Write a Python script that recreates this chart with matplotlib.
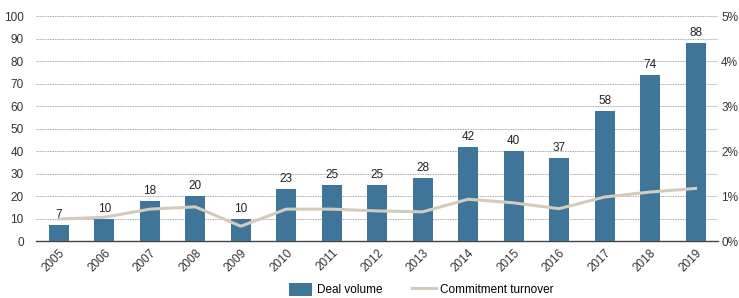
import matplotlib.pyplot as plt
from matplotlib.ticker import FuncFormatter

years = ["2005", "2006", "2007", "2008", "2009", "2010", "2011", "2012",
         "2013", "2014", "2015", "2016", "2017", "2018", "2019"]
deal_volume = [7, 10, 18, 20, 10, 23, 25, 25, 28, 42, 40, 37, 58, 74, 88]
turnover = [0.49, 0.53, 0.71, 0.76, 0.33, 0.71, 0.71, 0.67, 0.65, 0.93,
            0.85, 0.72, 0.98, 1.09, 1.17]

bar_color = "#3e7599"
line_color = "#d5cbbd"

plt.rcParams["font.family"] = ["Liberation Sans Narrow", "Liberation Sans", "DejaVu Sans"]
plt.rcParams["font.size"] = 8.5

fig = plt.figure(figsize=(7.39, 2.98), dpi=100)
ax = fig.add_axes([0.049, 0.191, 0.923, 0.755])
x = list(range(len(years)))

bars = ax.bar(x, deal_volume, width=0.44, color=bar_color, zorder=3,
              label="Deal volume")
for xi, v in zip(x, deal_volume):
    ax.text(xi, v + 1.8, str(v), ha="center", va="bottom", color="#222222",
            zorder=5)

ax.set_ylim(0, 100)
ax.set_xlim(-0.5, len(years) - 0.5)
ax.set_yticks(range(0, 101, 10))
ax.grid(axis="y", linestyle=(0, (1, 1)), color="#888888", linewidth=0.6, zorder=0)
ax.set_xticks(x)
ax.set_xticklabels(years, rotation=45, ha="right", rotation_mode="anchor")
for s in ["left", "right", "top"]:
    ax.spines[s].set_visible(False)
ax.spines["bottom"].set_color("#444444")
ax.spines["bottom"].set_linewidth(1.0)
ax.tick_params(axis="y", length=0, pad=9, colors="#333333")
ax.tick_params(axis="x", length=0, pad=4, colors="#333333")

ax2 = ax.twinx()
line, = ax2.plot(x, turnover, color=line_color, linewidth=2.2, zorder=4,
                 label="Commitment turnover")
ax2.set_ylim(0, 5)
ax2.set_yticks(range(0, 6))
ax2.yaxis.set_major_formatter(FuncFormatter(lambda v, p: f"{int(v)}%"))
ax2.tick_params(axis="y", length=0, pad=2, colors="#333333")
for s in ax2.spines.values():
    s.set_visible(False)
ax2.set_zorder(ax.get_zorder() + 1)
ax2.patch.set_visible(False)

fig.legend([bars, line], ["Deal volume", "Commitment turnover"],
           loc="center", bbox_to_anchor=(0.57, 0.027), ncol=2, frameon=False,
           handlelength=2.0, handleheight=1.2, columnspacing=2.5,
           handletextpad=0.4)

fig.savefig("out.png", dpi=100)
